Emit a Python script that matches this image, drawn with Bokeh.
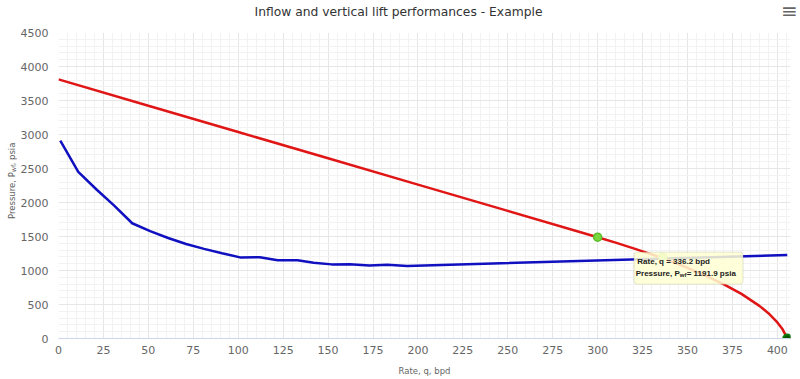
import math
from bokeh.plotting import figure
from bokeh.layouts import column, row
from bokeh.models import Label, BoxAnnotation, SingleIntervalTicker, Range1d
from bokeh.embed import file_html
from bokeh.resources import INLINE

# ---- data ----
ipr_q = [0, 50, 100, 150, 200, 250, 300, 310, 320, 330, 340, 350, 360, 370, 380, 390, 395, 400, 403, 405.5]
ipr_p = [3810, 3423, 3037, 2650, 2263, 1877, 1490, 1410, 1325, 1237, 1145, 1040, 925, 800, 656, 480, 372, 237, 131, 0]

vlp_q = [1, 11, 21, 31, 41, 51, 61, 71, 81, 91, 101, 112, 122, 133, 142, 152, 162, 173, 183, 194, 405.5]
vlp_p = [2910, 2450, 2195, 1955, 1695, 1578, 1478, 1390, 1318, 1255, 1193, 1196, 1150, 1150, 1115, 1090, 1092, 1075, 1085, 1066, 1228]

bubble_q = [300]
bubble_p = [1490]
cross_q = [336.2]
cross_p = [1191.9]
aof_q = [405.5]
aof_p = [0]

title_text = "Inflow and vertical lift performances - Example"
x_title = "Rate, q, bpd"
y_title_parts = ["Pressure, P", "wf", ", psia"]
tip_line1 = "Rate, q = 336.2 bpd"
tip_line2_parts = ["Pressure, P", "wf", " = 1191.9 psia"]

X_MAX = 407.3
Y_MAX = 4500

TOTAL_W, TOTAL_H = 800, 379
TOP_H = 22          # strip holding title + menu icon
LEFT_W = 17         # strip holding rotated y-axis title
MAIN_W = TOTAL_W - LEFT_W
MAIN_H = TOTAL_H - TOP_H
BL, BR, BT, BB = 58 - LEFT_W, 10, 32 - TOP_H, 41
FRAME_W = MAIN_W - BL - BR
FRAME_H = MAIN_H - BT - BB
kx = FRAME_W / X_MAX
ky = FRAME_H / Y_MAX

FONT = "DejaVu Sans"
TIPFONT = "Liberation Sans"


def blank(w, h):
    f = figure(width=w, height=h, output_backend="svg", toolbar_location=None,
               x_range=Range1d(0, w), y_range=Range1d(0, h),
               x_axis_location=None, y_axis_location=None, min_border=0)
    f.grid.visible = False
    f.outline_line_color = None
    f.background_fill_color = "white"
    f.border_fill_color = "white"
    return f


# ---- top strip: title and menu icon ----
top = blank(TOTAL_W, TOP_H)
top.add_layout(Label(text=title_text, x=398, y=TOP_H - 11, text_font=FONT, text_font_size="12.3px",
                     text_color="#333333", text_align="center", text_baseline="middle"))
top.add_layout(Label(text="\u2261", x=789, y=TOP_H - 10, text_font=FONT, text_font_size="20px",
                     text_color="#666666", text_align="center", text_baseline="middle"))

# ---- left strip: rotated y-axis title with subscript ----
left = blank(LEFT_W, MAIN_H)
ylab_kw = dict(angle=math.pi / 2, text_font=FONT, text_color="#606060", text_baseline="middle")
SUB_AT = 185.0   # page y where the subscript starts
left.add_layout(Label(text=y_title_parts[0], x=11.5, y=TOTAL_H - SUB_AT, text_align="right",
                      text_font_size="8.5px", **ylab_kw))
left.add_layout(Label(text=y_title_parts[1], x=13.5, y=TOTAL_H - SUB_AT, text_align="left",
                      text_font_size="6.5px", **ylab_kw))
left.add_layout(Label(text=y_title_parts[2], x=11.5, y=TOTAL_H - SUB_AT + 8, text_align="left",
                      text_font_size="8.5px", **ylab_kw))

# ---- main chart ----
p = figure(width=MAIN_W, height=MAIN_H, output_backend="svg", toolbar_location=None,
           x_range=Range1d(0, X_MAX), y_range=Range1d(0, Y_MAX),
           min_border_left=BL, min_border_right=BR, min_border_top=BT, min_border_bottom=BB)
p.outline_line_color = None
p.background_fill_color = "white"
p.border_fill_color = "white"

xt = SingleIntervalTicker(interval=25, num_minor_ticks=5)
yt = SingleIntervalTicker(interval=500, num_minor_ticks=5)
p.xaxis.ticker = xt
p.yaxis.ticker = yt
for ax in (p.xaxis, p.yaxis):
    ax.major_tick_line_color = None
    ax.minor_tick_line_color = None
    ax.major_tick_out = 0
    ax.major_tick_in = 0
    ax.minor_tick_out = 0
    ax.minor_tick_in = 0
    ax.major_label_text_font = FONT
    ax.major_label_text_font_size = "11px"
    ax.major_label_text_color = "#666666"
p.xaxis.axis_line_color = "#ccd6eb"
p.yaxis.axis_line_color = None
p.xaxis.major_label_standoff = 7
p.yaxis.major_label_standoff = 10
p.xaxis.axis_label = x_title
p.xaxis.axis_label_text_font = FONT
p.xaxis.axis_label_text_font_size = "8.5px"
p.xaxis.axis_label_text_font_style = "normal"
p.xaxis.axis_label_text_color = "#666666"
p.xaxis.axis_label_standoff = 9

p.xgrid.ticker = xt
p.ygrid.ticker = yt
p.xgrid.grid_line_color = "#e6e6e6"
p.ygrid.grid_line_color = "#e6e6e6"
p.xgrid.minor_grid_line_color = "#f2f2f2"
p.ygrid.minor_grid_line_color = "#f2f2f2"

p.line(vlp_q, vlp_p, line_color="#1010c0", line_width=2.5)
p.line(ipr_q, ipr_p, line_color="#e01515", line_width=2.5)

p.scatter(bubble_q, bubble_p, size=8, fill_color="#79d63f", line_color="#5cbd2a", line_width=1.5)
p.scatter(cross_q, cross_p, size=8, fill_color="#b4e38e", line_color="#9ad46c", line_width=1.5)
p.scatter(aof_q, aof_p, size=8, fill_color="#0a5a0a", line_color="#0b7a0b", line_width=2)

# tooltip
box = BoxAnnotation(left=cross_q[0] - 28.7 / kx, right=cross_q[0] + 80.3 / kx,
                    top=cross_p[0] + 5.3 / ky, bottom=cross_p[0] - 26.7 / ky,
                    fill_color="#ffffd2", fill_alpha=0.85, line_color="#a8a890",
                    line_width=1, border_radius=3)
p.add_layout(box)

tip_kw = dict(x=cross_q[0], y=cross_p[0], text_font=TIPFONT, text_font_style="bold",
              text_color="#222222", text_baseline="middle")
SUB_X = 17.0    # pixel offset (from the marker) where the subscript starts
p.add_layout(Label(text=tip_line1, x_offset=-25.4, y_offset=-4.4, text_align="left",
                   text_font_size="8px", **tip_kw))
p.add_layout(Label(text=tip_line2_parts[0], x_offset=SUB_X, y_offset=-16, text_align="right",
                   text_font_size="8px", **tip_kw))
p.add_layout(Label(text=tip_line2_parts[1], x_offset=SUB_X, y_offset=-18, text_align="left",
                   text_font_size="6px", **tip_kw))
p.add_layout(Label(text=tip_line2_parts[2], x_offset=SUB_X + 7, y_offset=-16, text_align="left",
                   text_font_size="8px", **tip_kw))

layout = column(top, row(left, p, spacing=0), spacing=0)

open("out.html", "w").write(file_html(layout, INLINE))
